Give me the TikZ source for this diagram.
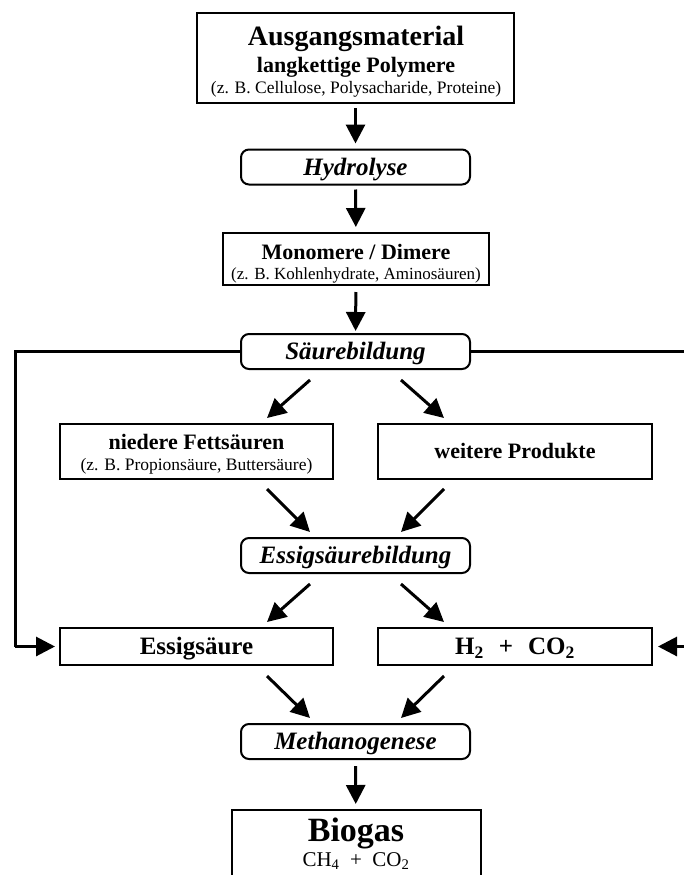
\documentclass[tikz,border=0pt]{standalone}
\usepackage{fontspec}
\setmainfont{Liberation Serif}
\usetikzlibrary{arrows.meta}
\tikzset{
  box/.style={draw, line width=2pt, inner sep=0pt},
  rbox/.style={draw, line width=2pt, rounded corners=8pt, minimum width=229pt,
    minimum height=35pt, inner sep=0pt, font=\fontsize{25}{30}\selectfont\bfseries\itshape,
    text height=16.5pt, text depth=0pt},
  sbox/.style={draw, line width=2pt, minimum width=273pt, minimum height=37pt, inner sep=0pt,
    font=\fontsize{25}{30}\selectfont\bfseries, text height=16.5pt, text depth=0pt},
  arr/.style={line width=3pt, -{Triangle[length=19pt,width=19pt]}},
  fb/.style={line width=3pt},
  tbig/.style={anchor=base, inner sep=0pt, font=\fontsize{28}{32}\selectfont\bfseries},
  tmid/.style={anchor=base, inner sep=0pt, font=\fontsize{22}{26}\selectfont\bfseries},
  tsmall/.style={anchor=base, inner sep=0pt, font=\fontsize{17.5}{20}\selectfont},
}
\begin{document}
\begin{tikzpicture}[x=1pt,y=-1pt]
\fill[white] (0,0) rectangle (684,875);
\useasboundingbox (0,0) rectangle (684,875);

% boxes
\node[box, minimum width=317pt, minimum height=90pt] (ausgang) at (355.5,58) {};
\node[tbig] (t1) at (356,46) {Ausgangsmaterial};
\node[tmid] (t2) at (356,72) {langkettige Polymere};
\node[tsmall] (t3) at (356,93) {(z. B. Cellulose, Polysacharide, Proteine)};

\node[rbox] (hydro) at (355.5,167) {Hydrolyse};

\node[box, minimum width=266pt, minimum height=52pt] (mono) at (356,259) {};
\node[tmid] (t4) at (356,259) {Monomere / Dimere};
\node[tsmall, font=\fontsize{17}{20}\selectfont] (t5) at (356,279) {(z. B. Kohlenhydrate, Aminosäuren)};

\node[rbox] (saeure) at (355.5,351.5) {Säurebildung};

\node[box, minimum width=273pt, minimum height=55pt] (nieder) at (196.5,451.5) {};
\node[tmid] (t6) at (196.5,449) {niedere Fettsäuren};
\node[tsmall] (t7) at (196.5,470) {(z. B. Propionsäure, Buttersäure)};

\node[box, minimum width=274pt, minimum height=55pt, font=\fontsize{22}{26}\selectfont\bfseries,
  text height=14.5pt, text depth=0pt] (weiter) at (515,451.5) {weitere Produkte};

\node[rbox] (essigb) at (355.5,555.5) {Essigsäurebildung};

\node[sbox] (essig) at (196.5,646.5) {Essigsäure};
\node[sbox, minimum width=274pt] (hzwei) at (515,646.5) {H\textsubscript{2}\hspace{0.6em}+\hspace{0.6em}CO\textsubscript{2}};

\node[rbox] (metha) at (355.5,741.5) {Methanogenese};

\node[box, minimum width=249pt, minimum height=100pt] (biogas) at (356,860) {};
\node[anchor=base, inner sep=0pt, font=\fontsize{34}{38}\selectfont\bfseries] (t8) at (356,841) {Biogas};
\node[anchor=base, inner sep=0pt, font=\fontsize{21}{24}\selectfont] (t9) at (356,866) {CH\textsubscript{4}\hspace{0.5em}+\hspace{0.5em}CO\textsubscript{2}};

% vertical arrows
\draw[arr, shorten <=4pt, shorten >=5pt] (ausgang) -- (hydro);
\draw[arr, shorten <=4pt, shorten >=5pt] (hydro) -- (mono);
\draw[arr, shorten <=6pt, shorten >=2pt] (mono) -- (saeure);
\draw[arr, shorten <=6pt, shorten >=5pt] (metha) -- (biogas);

% diagonal arrows
\draw[arr] ([xshift=-45.5pt,yshift=-10pt]saeure.south) -- ([xshift=70.5pt,yshift=5pt]nieder.north);
\draw[arr] ([xshift=45.5pt,yshift=-10pt]saeure.south) -- ([xshift=-71pt,yshift=5pt]weiter.north);
\draw[arr] ([xshift=70.5pt,yshift=-9pt]nieder.south) -- ([xshift=-45.5pt,yshift=5pt]essigb.north);
\draw[arr] ([xshift=-71pt,yshift=-9pt]weiter.south) -- ([xshift=45.5pt,yshift=5pt]essigb.north);
\draw[arr] ([xshift=-45.5pt,yshift=-10pt]essigb.south) -- ([xshift=70.5pt,yshift=5pt]essig.north);
\draw[arr] ([xshift=45.5pt,yshift=-10pt]essigb.south) -- ([xshift=-71pt,yshift=5pt]hzwei.north);
\draw[arr] ([xshift=70.5pt,yshift=-10pt]essig.south) -- ([xshift=-45.5pt,yshift=5pt]metha.north);
\draw[arr] ([xshift=-71pt,yshift=-10pt]hzwei.south) -- ([xshift=45.5pt,yshift=5pt]metha.north);

% feedback lines
\coordinate (lcorner1) at (15,351.5);
\coordinate (lcorner2) at (15,646.5);
\draw[fb] (saeure.west) -- (lcorner1) -- (lcorner2);
\draw[arr, shorten >=4pt] (lcorner2) -- (essig.west);
\coordinate (rout) at (700,351.5);
\coordinate (rin) at (700,646.5);
\draw[fb] (saeure.east) -- (rout);
\draw[arr, shorten >=5pt] (rin) -- (hzwei.east);
\end{tikzpicture}
\end{document}
